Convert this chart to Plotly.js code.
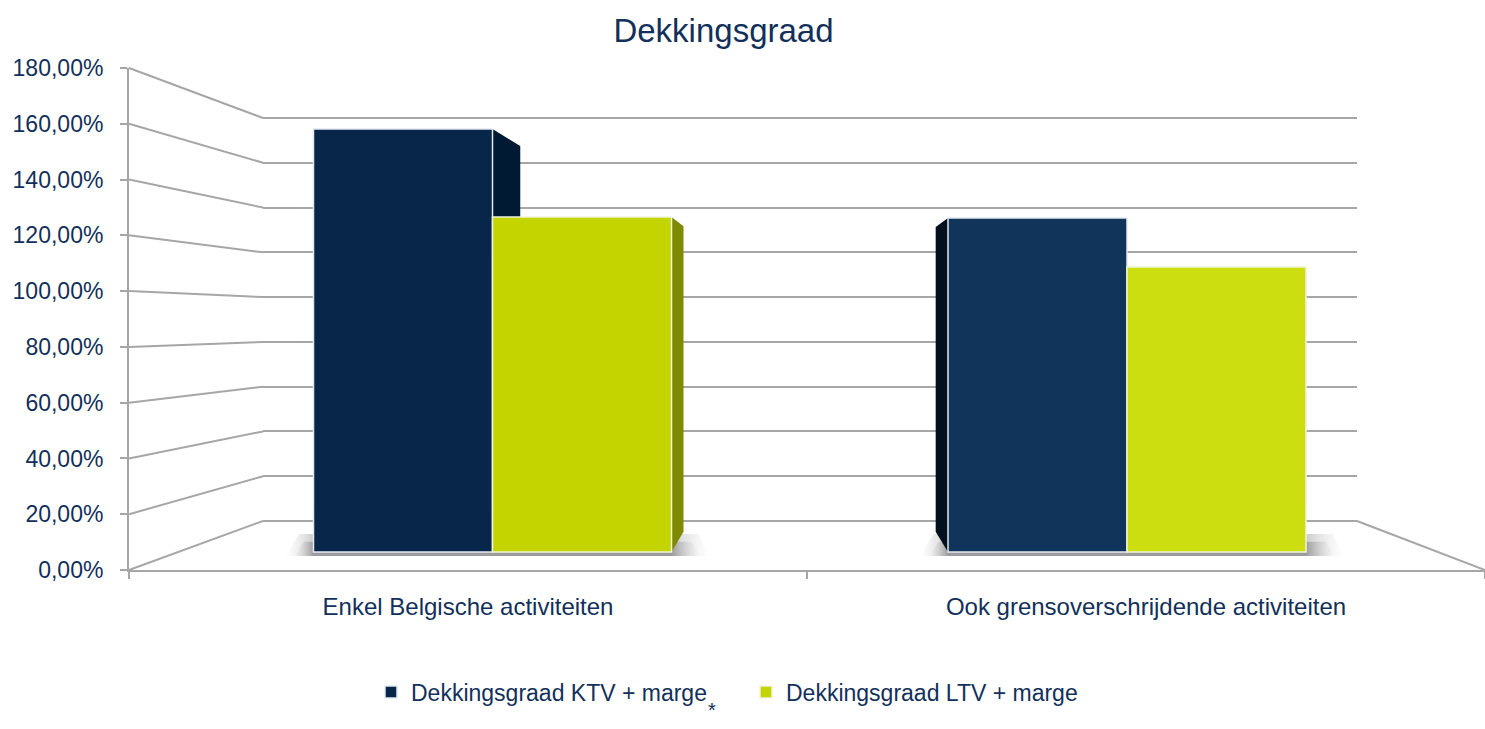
<!DOCTYPE html>
<html>
<head>
<meta charset="utf-8">
<script src="https://cdn.plot.ly/plotly-3.0.1.min.js"></script>
<style>html,body{margin:0;padding:0;background:#fff;}#chart{width:1485px;height:729px;}</style>
</head>
<body>
<div id="chart"></div>
<script>
// ---- data ----
const categories = ['Enkel Belgische activiteiten', 'Ook grensoverschrijdende activiteiten'];
const seriesNames = ['Dekkingsgraad KTV + marge', 'Dekkingsgraad LTV + marge'];
const ktvValues = [163.4, 129.1];
const ltvValues = [129.4, 110.1];
const yTickValues = [0, 20, 40, 60, 80, 100, 120, 140, 160, 180];
const yTickLabels = yTickValues.map(v => v.toFixed(2).replace('.', ',') + '%');
const chartTitle = 'Dekkingsgraad';
const footnote = '*';

// ---- geometry (pixels) ----
const W = 1485, H = 729;
const front = {x0: 129, x1: 1485, yZero: 570, yMax: 68, vMax: 180};
const back = {x0: 263, x1: 1357, yZero: 521, yMax: 118};
const barZeroPx = 552, barPxPerUnit = 2.588, barCenter0 = 492.5, barUnitPx = 634.5;
const vpPx = {x: 808, y: 321.5};
const depth = 0.088;
const barW = 179 / barUnitPx;

const px2pX = p => p / W;
const px2pY = p => 1 - p / H;

const bxR0 = 0 - (barCenter0 - front.x0) / barUnitPx;
const bxR1 = bxR0 + (front.x1 - front.x0) / barUnitPx;
const byR0 = -4, byR1 = 180;
const byTopPx = barZeroPx - byR1 * barPxPerUnit;
const byBotPx = barZeroPx - byR0 * barPxPerUnit;
const vx = (vpPx.x - barCenter0) / barUnitPx;
const vy = (barZeroPx - vpPx.y) / barPxPerUnit;
const k = 1 - depth;

const navy = '#13305A';
const gridCol = '#A6A6A6';

const traces = [];
traces.push({type: 'scatter', x: [], y: [], xaxis: 'x', yaxis: 'y', showlegend: false, hoverinfo: 'skip'});
traces.push({type: 'scatter', x: [], y: [], xaxis: 'x2', yaxis: 'y2', showlegend: false, hoverinfo: 'skip'});

// soft floor shadows (layered, under bars)
categories.forEach((c, i) => {
  const xl = i - barW, xr = i + barW;
  [[0.045, 0.06, 7, 0.28], [0.03, 0.045, 4, 0.35]].forEach(([pl, pr, top, a]) => {
    const x0 = xl - pl, x1 = xr + pr;
    const fl = (xl - x0) / (x1 - x0), fr = (xr - x0) / (x1 - x0);
    traces.push({
      type: 'scatter', mode: 'lines', xaxis: 'x3', yaxis: 'y3', showlegend: false, hoverinfo: 'skip',
      x: [x0, x1, xr + pr * 0.7, xl - pl * 0.5, x0],
      y: [-1.5, -1.5, top, top, -1.5],
      fill: 'toself', line: {width: 0},
      fillcolor: 'rgba(120,120,120,' + a + ')',
      fillgradient: {type: 'horizontal', colorscale: [[0, 'rgba(170,170,170,0)'], [fl, 'rgba(70,70,70,' + a + ')'], [fr, 'rgba(70,70,70,' + a + ')'], [1, 'rgba(170,170,170,0)']]}
    });
  });
});

function sideFace(xe, v, color) {
  const bx = vx + (xe - vx) * k;
  traces.push({
    type: 'scatter', mode: 'lines', xaxis: 'x3', yaxis: 'y3', showlegend: false, hoverinfo: 'skip',
    x: [xe, bx, bx, xe, xe],
    y: [v, vy + (v - vy) * k, vy + (0 - vy) * k, 0, v],
    fill: 'toself', fillcolor: color, line: {width: 0}
  });
}
const seriesList = [
  {vals: ktvValues, off: -barW, side: ['#001A33', '#020F1F']},
  {vals: ltvValues, off: 0, side: ['#7E8A00', '#7E8A00']}
];
seriesList.forEach(s => {
  s.vals.forEach((v, i) => {
    const l = i + s.off, r = l + barW;
    if (r < vx) sideFace(r, v, s.side[i]);
    else if (l > vx) sideFace(l, v, s.side[i]);
  });
});

traces.push({
  type: 'bar', name: seriesNames[0], x: categories, y: ktvValues, xaxis: 'x4', yaxis: 'y4',
  offset: -barW, width: barW,
  marker: {color: ['#07264A', '#11345B'], line: {color: '#E4E9EE', width: 1.5}}
});
traces.push({
  type: 'bar', name: seriesNames[1], x: categories, y: ltvValues, xaxis: 'x4', yaxis: 'y4',
  offset: 0, width: barW,
  marker: {color: ['#C3D400', '#CCDD10'], line: {color: '#F0F4D8', width: 1.5}}
});

const shapes = yTickValues.map(v => {
  const yf = front.yZero - v * (front.yZero - front.yMax) / front.vMax;
  const yb = back.yZero - v * (back.yZero - back.yMax) / front.vMax;
  return {type: 'line', xref: 'paper', yref: 'paper', layer: 'below',
    x0: px2pX(front.x0), y0: px2pY(yf), x1: px2pX(back.x0), y1: px2pY(yb),
    line: {color: gridCol, width: 2}};
});
shapes.push({type: 'line', xref: 'paper', yref: 'paper', layer: 'below',
  x0: px2pX(back.x1), y0: px2pY(back.yZero), x1: px2pX(front.x1), y1: px2pY(front.yZero),
  line: {color: gridCol, width: 2}});

const b2Unit = (back.yZero - back.yMax) / front.vMax;
const font = 'Liberation Sans, Arial, sans-serif';

const layout = {
  width: W, height: H,
  margin: {l: 0, r: 0, t: 0, b: 0},
  paper_bgcolor: '#fff', plot_bgcolor: 'rgba(0,0,0,0)',
  hovermode: false,
  barmode: 'overlay',
  font: {family: font, color: navy},
  title: {text: chartTitle, x: 723.5 / W, xref: 'paper', xanchor: 'center', y: px2pY(30), yref: 'paper', yanchor: 'middle',
    font: {family: font, size: 33, color: navy}},
  xaxis: {domain: [px2pX(front.x0), 1], range: [-0.5, 1.5], anchor: 'y',
    tickmode: 'array', tickvals: categories.map((c, i) => i), ticktext: categories, ticks: '',
    tickfont: {size: 24, color: navy}, ticklabelstandoff: 14,
    showline: true, linecolor: gridCol, linewidth: 2, showgrid: false, zeroline: false,
    minor: {tickmode: 'array', tickvals: [-0.5, 0.5, 1.5], ticks: 'outside', ticklen: 7, tickcolor: gridCol, tickwidth: 2, showgrid: false}},
  yaxis: {domain: [px2pY(front.yZero), px2pY(front.yMax)], range: [0, front.vMax], anchor: 'x',
    tickmode: 'array', tickvals: yTickValues, ticktext: yTickLabels,
    ticks: 'outside', ticklen: 7, tickcolor: gridCol, tickwidth: 2, ticklabelstandoff: 12,
    tickfont: {size: 23, color: navy},
    showline: true, linecolor: gridCol, linewidth: 2, showgrid: false, zeroline: false},
  xaxis2: {domain: [px2pX(back.x0), px2pX(back.x1)], range: [0, 1], anchor: 'y2',
    showgrid: false, showline: false, zeroline: false, ticks: '', showticklabels: false},
  yaxis2: {domain: [px2pY(back.yZero + 0.5 * b2Unit), px2pY(back.yMax - 0.5 * b2Unit)], range: [-0.5, 180.5], anchor: 'x2',
    tickmode: 'array', tickvals: yTickValues, showgrid: true, gridcolor: gridCol, gridwidth: 2,
    zeroline: true, zerolinecolor: gridCol, zerolinewidth: 2, showline: false, ticks: '', showticklabels: false},
  xaxis3: {domain: [px2pX(front.x0), 1], range: [bxR0, bxR1], anchor: 'y3', visible: false},
  yaxis3: {domain: [px2pY(byBotPx), px2pY(byTopPx)], range: [byR0, byR1], anchor: 'x3', visible: false},
  xaxis4: {domain: [px2pX(front.x0), 1], range: [bxR0, bxR1], anchor: 'y4', type: 'category', categoryorder: 'array', categoryarray: categories, visible: false},
  yaxis4: {domain: [px2pY(byBotPx), px2pY(byTopPx)], range: [byR0, byR1], anchor: 'x4', visible: false},
  legend: {orientation: 'h', x: 746 / W, xanchor: 'center', y: px2pY(692), yanchor: 'middle',
    font: {size: 23, color: navy}, entrywidth: 330, entrywidthmode: 'pixels', bgcolor: 'rgba(0,0,0,0)'},
  annotations: [{text: footnote, xref: 'paper', yref: 'paper', x: 712 / W, y: px2pY(710), showarrow: false,
    font: {size: 20, color: navy}, xanchor: 'center', yanchor: 'middle'}],
  shapes: shapes
};

Plotly.newPlot('chart', traces, layout, {displayModeBar: false, staticPlot: true});
</script>
</body>
</html>
